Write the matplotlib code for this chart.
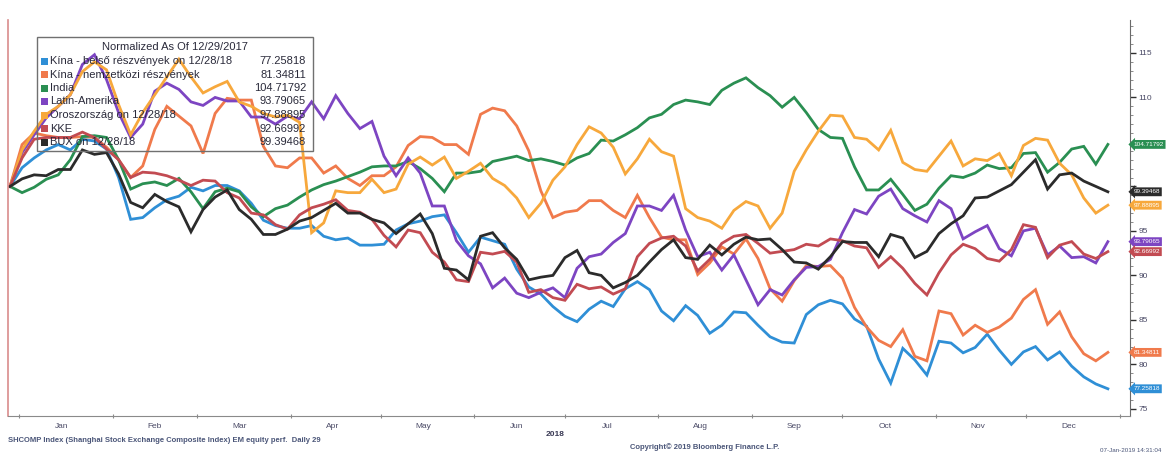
import numpy as np
import pandas as pd
import matplotlib
matplotlib.use("Agg")
import matplotlib.pyplot as plt
import matplotlib.dates as mdates
import matplotlib.transforms as mtransforms
from matplotlib.ticker import MultipleLocator, FuncFormatter
from matplotlib.patches import Rectangle

plt.rcParams['font.family'] = ['Liberation Sans', 'DejaVu Sans']

# --------------------- Data (normalized to 100 on 12/29/2017) ---------------------

dates = pd.date_range('2017-12-29', '2018-12-28', freq='4D')

kina_belso = [
    100.0, 102.1, 103.2, 104.1, 104.7, 104.1, 105.3, 105.1, 104.2, 101.0,
    96.3, 96.5, 97.6, 98.5, 98.9, 99.9, 99.5, 100.1, 100.1, 99.5,
    98.1, 96.2, 95.6, 95.3, 95.3, 95.6, 94.4, 94.0, 94.2, 93.4,
    93.4, 93.5, 95.1, 95.8, 96.1, 96.6, 96.8, 94.8, 92.6, 94.3,
    93.9, 93.5, 90.7, 88.7, 87.9, 86.5, 85.4, 84.8, 86.2, 87.1,
    86.5, 88.5, 89.3, 88.4, 86.0, 84.9, 86.6, 85.5, 83.5, 84.4,
    85.9, 85.8, 84.4, 83.1, 82.5, 82.4, 85.6, 86.7, 87.2, 86.8,
    85.1, 84.3, 80.6, 77.9, 81.8, 80.5, 78.8, 82.6, 82.4, 81.3,
    81.9, 83.4, 81.6, 80.0, 81.4, 82.0, 80.5, 81.4, 79.8, 78.6,
    77.8, 77.25818]

kina_nemzetkozi = [
    100.0, 104.7, 106.0, 105.7, 105.5, 105.5, 105.6, 105.5, 104.4, 103.0,
    101.0, 102.3, 106.4, 109.0, 107.9, 106.8, 103.7, 108.2, 109.9, 109.7,
    109.7, 104.5, 102.3, 102.1, 103.2, 103.2, 101.5, 102.3, 100.9, 100.1,
    101.2, 101.2, 102.2, 104.6, 105.6, 105.5, 104.7, 104.7, 103.6, 108.1,
    108.8, 108.5, 106.8, 104.0, 99.5, 96.5, 97.1, 97.3, 98.4, 98.4,
    97.3, 96.5, 99.0, 96.5, 94.3, 94.0, 94.0, 90.1, 91.4, 93.2,
    92.4, 94.1, 91.9, 88.5, 87.1, 89.4, 91.1, 91.0, 91.1, 89.7,
    86.4, 84.2, 82.7, 82.0, 83.9, 80.9, 80.4, 86.0, 85.7, 83.3,
    84.4, 83.6, 84.2, 85.2, 87.3, 88.4, 84.5, 85.9, 83.1, 81.2,
    80.4, 81.34811]

india = [
    100.0, 99.3, 99.9, 100.8, 101.3, 103.0, 105.6, 105.7, 105.5, 103.0,
    99.7, 100.3, 100.5, 100.1, 100.9, 99.4, 97.5, 99.4, 99.8, 99.4,
    97.7, 96.6, 97.5, 97.9, 98.8, 99.6, 100.2, 100.6, 101.1, 101.6,
    102.2, 102.3, 102.3, 102.8, 102.0, 100.9, 99.4, 101.5, 101.5, 101.7,
    102.8, 103.1, 103.4, 102.9, 103.1, 102.8, 102.4, 103.2, 103.7, 105.2,
    105.1, 105.8, 106.6, 107.7, 108.1, 109.2, 109.7, 109.5, 109.2, 110.8,
    111.6, 112.2, 111.1, 110.2, 108.9, 110.0, 108.3, 106.4, 105.5, 105.4,
    102.2, 99.6, 99.6, 100.8, 99.1, 97.3, 98.0, 99.8, 101.2, 101.0,
    101.5, 102.4, 102.0, 102.1, 103.7, 103.8, 101.6, 102.7, 104.2, 104.5,
    102.5, 104.71792]

latin_amerika = [
    100.0, 103.8, 105.8, 107.7, 109.0, 110.3, 113.7, 114.8, 112.0, 108.3,
    105.5, 107.0, 110.7, 111.6, 110.9, 109.5, 109.1, 110.0, 109.6, 109.6,
    107.8, 107.8, 107.0, 107.9, 107.6, 109.5, 107.6, 110.2, 108.2, 106.5,
    107.3, 103.4, 101.2, 103.2, 101.5, 97.8, 97.8, 93.9, 92.2, 91.3,
    88.6, 89.7, 88.0, 87.5, 88.1, 88.6, 87.5, 90.8, 92.1, 92.4,
    93.7, 94.7, 97.8, 97.8, 97.3, 99.0, 95.1, 92.1, 92.6, 90.6,
    92.3, 89.5, 86.7, 88.4, 87.8, 89.5, 90.9, 91.0, 91.8, 94.8,
    97.4, 96.9, 98.9, 99.7, 97.5, 96.7, 96.0, 98.4, 97.5, 94.1,
    94.9, 95.6, 93.0, 92.2, 95.0, 95.3, 92.3, 93.3, 92.0, 92.1,
    91.4, 93.79065]

oroszorszag = [
    100.0, 104.1, 106.2, 108.1, 109.0, 110.3, 112.9, 114.0, 113.1, 109.2,
    105.8, 108.3, 110.3, 112.3, 114.3, 112.3, 110.5, 111.2, 111.8, 109.5,
    109.0, 108.2, 107.8, 108.0, 107.2, 94.8, 95.9, 99.5, 99.3, 99.3,
    100.8, 99.3, 99.7, 102.5, 103.3, 102.4, 103.3, 100.9, 101.7, 102.6,
    100.9, 100.1, 98.7, 96.5, 98.1, 100.7, 102.2, 104.7, 106.7, 106.0,
    104.4, 101.4, 103.1, 105.3, 103.9, 103.4, 97.5, 96.5, 96.1, 95.3,
    97.3, 98.3, 97.8, 95.3, 97.0, 101.7, 104.1, 106.2, 108.0, 107.9,
    105.5, 105.3, 104.1, 106.3, 102.7, 101.9, 101.7, 103.4, 105.1, 102.3,
    103.1, 102.9, 103.7, 101.2, 104.6, 105.4, 105.2, 102.6, 101.3, 98.7,
    97.0, 97.88895]

kke = [
    100.0, 103.2, 105.3, 105.5, 105.5, 105.5, 106.1, 105.5, 104.2, 103.0,
    101.0, 101.6, 101.5, 101.2, 100.7, 100.1, 100.7, 100.6, 99.3, 98.7,
    97.0, 96.8, 95.7, 95.2, 96.8, 97.6, 98.0, 98.5, 97.3, 97.1,
    96.3, 94.5, 93.2, 95.1, 94.8, 92.6, 91.5, 89.5, 89.3, 92.6,
    92.4, 92.7, 91.5, 88.1, 88.4, 87.5, 87.2, 89.0, 88.5, 88.7,
    87.9, 88.5, 92.1, 93.6, 94.2, 94.4, 93.3, 90.5, 91.8, 93.6,
    94.4, 94.6, 93.6, 92.5, 92.7, 92.9, 93.5, 93.3, 94.1, 93.9,
    93.3, 93.1, 90.9, 92.1, 90.8, 89.1, 87.8, 90.3, 92.3, 93.5,
    93.0, 91.9, 91.6, 92.9, 95.7, 95.4, 92.0, 93.4, 93.8, 92.4,
    91.9, 92.66992]

bux = [
    100.0, 100.85, 101.3, 101.2, 101.9, 101.9, 104.1, 103.6, 103.8, 101.4,
    98.2, 97.6, 99.1, 98.3, 97.7, 94.9, 97.4, 98.8, 99.6, 97.4,
    96.3, 94.6, 94.6, 95.2, 96.1, 96.5, 97.3, 98.1, 97.0, 97.0,
    96.3, 95.9, 94.7, 95.8, 96.9, 94.7, 90.8, 90.6, 89.5, 94.4,
    94.8, 93.1, 91.8, 89.5, 89.8, 90.0, 92.0, 92.8, 90.3, 90.0,
    88.6, 89.2, 90.0, 91.5, 92.9, 94.0, 92.0, 91.8, 93.4, 92.3,
    93.5, 94.3, 94.0, 94.1, 92.9, 91.5, 91.4, 90.7, 92.1, 93.8,
    93.7, 93.7, 92.1, 94.6, 94.2, 92.0, 92.7, 94.7, 95.8, 96.7,
    98.7, 98.8, 99.5, 100.2, 101.6, 103.0, 99.7, 101.3, 101.5, 100.6,
    100.0, 99.39468]

series = [kina_belso, kina_nemzetkozi, india, latin_amerika, oroszorszag, kke, bux]
names = ["Kína - belső részvények on 12/28/18",
         "Kína - nemzetközi részvények",
         "India",
         "Latin-Amerika",
         "Oroszország on 12/28/18",
         "KKE",
         "BUX on 12/28/18"]
last_values = ["77.25818", "81.34811", "104.71792", "93.79065",
               "97.88895", "92.66992", "99.39468"]
colors = ["#2f8fd6", "#f07a4c", "#2a8f52", "#7d45c2", "#f7a83c", "#c24b52", "#2b2b2b"]

# --------------------- Figure ------------------------

W, H = 1168, 455
fig = plt.figure(figsize=(W / 100, H / 100), dpi=100)
fig.patch.set_facecolor("white")

def fx(px):
    return px / W

def fy(py):
    return 1 - py / H

ax = fig.add_axes([fx(8), fy(416), fx(1122), 396 / H])

for vals, col in zip(series, colors):
    ax.plot(dates, vals, color=col, lw=2.0, solid_joinstyle="miter")

ax.set_xlim(pd.Timestamp("2017-12-28 08:00"), pd.Timestamp("2019-01-04 08:00"))
ax.set_ylim(74.2, 118.7)

# spines
ax.spines["top"].set_visible(False)
ax.spines["left"].set_color("#d98c8c")
ax.spines["left"].set_linewidth(1.2)
ax.spines["bottom"].set_color("#8a8a8a")
ax.spines["right"].set_color("#6a6a6a")

# right y axis
ax.yaxis.tick_right()
ax.yaxis.set_major_locator(MultipleLocator(5))
ax.yaxis.set_minor_locator(MultipleLocator(1))
ax.yaxis.set_major_formatter(FuncFormatter(lambda v, p: "" if v in (100, 105) else f"{v:g}"))
ax.tick_params(axis="y", which="major", direction="out", length=4, width=1,
               colors="#303030", labelsize=6, labelcolor="#4a4a66", pad=2)
ax.tick_params(axis="y", which="minor", direction="out", length=2, width=0.6, colors="#777777")

# month axis
ax.xaxis.set_major_locator(mdates.MonthLocator())
ax.xaxis.set_major_formatter(plt.NullFormatter())
ax.xaxis.set_minor_locator(mdates.MonthLocator(bymonthday=15))
ax.xaxis.set_minor_formatter(mdates.DateFormatter("%b"))
ax.tick_params(axis="x", which="major", direction="inout", length=3, colors="#8a8a8a")
ax.tick_params(axis="x", which="minor", length=0, labelsize=6, labelcolor="#4a4a66", pad=5)

# value tags on the right
trans = mtransforms.blended_transform_factory(ax.transAxes, ax.transData)
for vals, col, lab in zip(series, colors, last_values):
    ax.text(1.003, vals[-1], lab, transform=trans, ha="left", va="center",
            fontsize=4.6, color="white", clip_on=False,
            bbox=dict(boxstyle="larrow,pad=0.3", fc=col, ec="none"))

# legend box (transparent, Bloomberg style)
fig.patches.append(Rectangle((fx(37), fy(151)), fx(276), 114 / H, transform=fig.transFigure,
                             fill=False, ec="#707070", lw=1.0))
fig.text(fx(175), fy(47), "Normalized As Of 12/29/2017", ha="center", va="center",
         fontsize=8, color="#2a2a3a")
for i, (name, col, val) in enumerate(zip(names, colors, last_values)):
    yy = fy(61 + 13.5 * i)
    fig.patches.append(Rectangle((fx(41), yy - 3.5 / H), fx(7), 7 / H,
                                 transform=fig.transFigure, fc=col, ec="none"))
    fig.text(fx(50), yy, name, ha="left", va="center", fontsize=8, color="#2a2a3a")
    fig.text(fx(306), yy, val, ha="right", va="center", fontsize=8, color="#2a2a3a")

# footer
fig.text(fx(555), fy(435), "2018", ha="center", va="center", fontsize=6,
         weight="bold", color="#3a3a55")
fig.text(fx(8), fy(440), "SHCOMP Index (Shanghai Stock Exchange Composite Index) EM equity perf.  Daily 29",
         ha="left", va="center", fontsize=5.5, weight="bold", color="#4a5578")
fig.text(fx(630), fy(447), "Copyright\u00a9 2019 Bloomberg Finance L.P.", ha="left", va="center",
         fontsize=5.5, weight="bold", color="#4a5578")
fig.text(fx(1100), fy(451), "07-Jan-2019 14:31:04", ha="left", va="center",
         fontsize=4.5, color="#4a5578")

fig.savefig("out.png", dpi=100, facecolor="white")
